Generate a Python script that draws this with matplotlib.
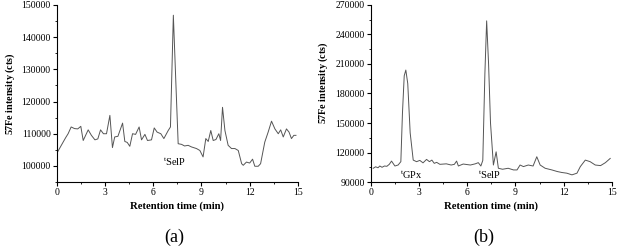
import matplotlib.pyplot as plt
from matplotlib.ticker import MultipleLocator

plt.rcParams['font.family'] = ['Liberation Serif', 'DejaVu Serif']
plt.rcParams['mathtext.fontset'] = 'custom'
plt.rcParams['mathtext.rm'] = 'Liberation Serif'
plt.rcParams['mathtext.bf'] = 'Liberation Serif:bold'

# (a) 读出来的数据
time_a = [0.04, 0.39, 0.55, 0.7, 0.89, 1.1, 1.3, 1.49, 1.64, 1.95, 2.15, 2.37, 2.55,
          2.72, 2.9, 3.09, 3.3, 3.46, 3.6, 3.8, 4.09, 4.23, 4.38, 4.54, 4.71, 4.9,
          5.12, 5.27, 5.48, 5.64, 5.89, 6.06, 6.24, 6.47, 6.66, 6.93, 7.07, 7.25,
          7.42, 7.55, 7.76, 7.95, 8.17, 8.38, 8.69, 8.9, 9.1, 9.27, 9.42, 9.58,
          9.73, 9.9, 10.08, 10.19, 10.31, 10.46, 10.66, 10.87, 11.08, 11.29, 11.5,
          11.6, 11.8, 12.0, 12.18, 12.32, 12.53, 12.68, 12.94, 13.15, 13.36, 13.57,
          13.78, 13.93, 14.09, 14.29, 14.45, 14.6, 14.75, 14.88]
cts_a = [104300, 107400, 108800, 110000, 112100, 111600, 111500, 112300, 107900,
         111200, 109500, 108100, 108400, 111200, 110000, 110000, 115700, 105700,
         109000, 109200, 113300, 107600, 107300, 106100, 110000, 109800, 112100,
         108100, 109800, 107900, 108100, 111800, 110500, 110000, 108500, 111000,
         112100, 146800, 124000, 106900, 106700, 106200, 106400, 105900, 105400,
         104800, 102800, 108500, 107600, 111000, 107900, 108200, 110000, 107900,
         118200, 111000, 106400, 105400, 105400, 104800, 100700, 100200, 101200,
         100900, 102100, 99900, 99900, 100700, 107400, 110500, 113900, 111500,
         110000, 111200, 109000, 111500, 110500, 108500, 109500, 109500]

# (b)
time_b = [0.15, 0.3, 0.45, 0.56, 0.7, 0.85, 1.0, 1.15, 1.29, 1.5, 1.7, 1.87, 1.97,
          2.08, 2.18, 2.3, 2.45, 2.64, 2.85, 3.05, 3.25, 3.47, 3.65, 3.8, 3.95,
          4.1, 4.3, 4.7, 5.0, 5.2, 5.34, 5.45, 5.75, 6.2, 6.5, 6.69, 6.85, 6.97,
          7.1, 7.21, 7.33, 7.45, 7.63, 7.8, 7.94, 8.2, 8.55, 8.88, 9.1, 9.29, 9.5,
          9.8, 10.1, 10.33, 10.54, 10.85, 11.27, 11.6, 11.89, 12.2, 12.52, 12.83,
          13.04, 13.35, 13.65, 13.97, 14.3, 14.6, 14.9]
cts_b = [104000, 105500, 104500, 106300, 105000, 106300, 106000, 108000, 111300,
         106300, 107300, 110700, 160000, 198000, 203800, 190000, 140000, 112300,
         110700, 112000, 109500, 113000, 110700, 112300, 109000, 110000, 108000,
         108500, 107300, 108000, 111300, 106300, 108300, 107300, 108500, 109700,
         106300, 112000, 200000, 253800, 210000, 150000, 107300, 120700, 104000,
         103000, 104000, 102300, 102300, 107300, 105700, 107300, 106300, 115700,
         107300, 104000, 102300, 100700, 99700, 99000, 97300, 99000, 105700,
         112300, 110700, 107300, 106700, 109700, 114000]

fig = plt.figure(figsize=(6.18, 2.46), dpi=100)
ax1 = fig.add_axes([0.092, 0.26, 0.39, 0.72])
ax2 = fig.add_axes([0.600, 0.26, 0.39, 0.72])

ax1.plot(time_a, cts_a, color='#555555', lw=0.7)
ax2.plot(time_b, cts_b, color='#555555', lw=0.7)

ax1.set_ylim(95000, 150000)
ax1.yaxis.set_major_locator(MultipleLocator(10000))
ax1.yaxis.set_minor_locator(MultipleLocator(5000))
ax2.set_ylim(90000, 270000)
ax2.yaxis.set_major_locator(MultipleLocator(30000))
ax2.yaxis.set_minor_locator(MultipleLocator(15000))

for ax in (ax1, ax2):
    ax.set_xlim(0, 15)
    ax.xaxis.set_major_locator(MultipleLocator(3))
    ax.xaxis.set_minor_locator(MultipleLocator(1.5))
    ax.spines['top'].set_visible(False)
    ax.spines['right'].set_visible(False)
    ax.tick_params(which='major', direction='out', length=3, width=0.8, labelsize=7, pad=1.5)
    ax.tick_params(which='minor', direction='out', length=1.5, width=0.6)
    ax.set_xlabel('Retention time (min)', fontsize=7.7, fontweight='bold', labelpad=3)
    ax.set_ylabel(r'$\mathbf{57}$Fe intensity (cts)', fontsize=7.3, fontweight='bold', labelpad=3)

ax2.yaxis.set_label_coords(-0.17, 0.56)

ax1.text(6.6, 100000, r'$^{\mathrm{t}}$SelP', fontsize=7.5)
ax2.text(1.8, 93500, r'$^{\mathrm{t}}$GPx', fontsize=7.5)
ax2.text(6.7, 93000, r'$^{\mathrm{t}}$SelP', fontsize=7.5)

fig.text(0.282, 0.035, '(a)', fontsize=13, ha='center', va='center')
fig.text(0.782, 0.035, '(b)', fontsize=13, ha='center', va='center')

fig.savefig('out.png', dpi=100)
